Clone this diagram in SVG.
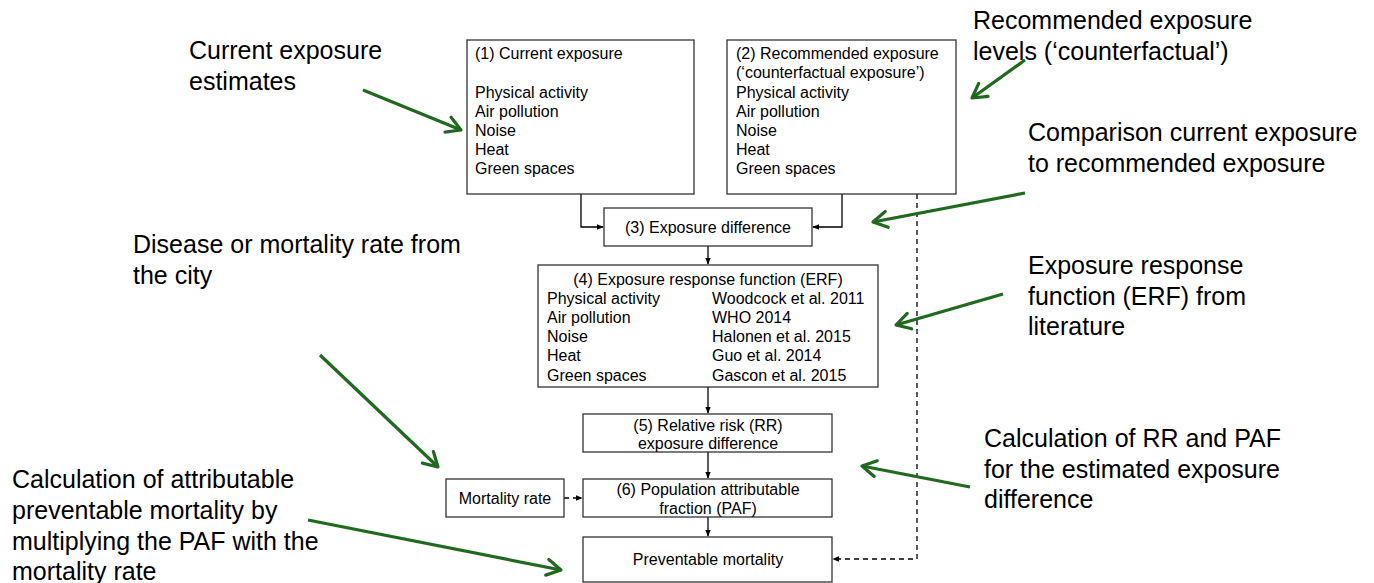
<svg xmlns="http://www.w3.org/2000/svg" width="1374" height="583" viewBox="0 0 1374 583">
<defs>
<style>
.box{fill:#fff;stroke:#333;stroke-width:1.3}
.t{font-family:"Liberation Sans",Arial,sans-serif;font-size:16px;fill:#000}
.g{font-family:"Liberation Sans",Arial,sans-serif;font-size:25px;fill:#000}
.c{fill:none;stroke:#000;stroke-width:1.3}
.d{fill:none;stroke:#000;stroke-width:1.3;stroke-dasharray:5,4}
.ga{fill:none;stroke:#1e6b1e;stroke-width:3.2}
</style>
<marker id="ah" viewBox="0 0 10 10" refX="9" refY="5" markerWidth="7" markerHeight="7" markerUnits="userSpaceOnUse" orient="auto"><path d="M0,1 L10,5 L0,9 z" fill="#000"/></marker>
<marker id="gh" viewBox="0 0 20 20" refX="18" refY="10" markerWidth="20" markerHeight="20" markerUnits="userSpaceOnUse" orient="auto"><path d="M4,2 L18,10 L4,18" fill="none" stroke="#1e6b1e" stroke-width="3.2" stroke-linecap="round" stroke-linejoin="round"/></marker>
</defs>
<rect width="1374" height="583" fill="#fff"/>
<g id="connectors">
<path class="c" d="M581,194 V227 H603" marker-end="url(#ah)"/>
<path class="c" d="M842,194 V227 H813" marker-end="url(#ah)"/>
<path class="c" d="M708,246 V264" marker-end="url(#ah)"/>
<path class="c" d="M708,387 V413" marker-end="url(#ah)"/>
<path class="c" d="M708,452 V478" marker-end="url(#ah)"/>
<path class="c" d="M708,517 V536" marker-end="url(#ah)"/>
<path class="d" d="M564,498 H582" marker-end="url(#ah)"/>
<path class="d" d="M917,194 V559 H833" marker-end="url(#ah)"/>
</g>
<g id="n1"><rect class="box" x="467" y="40" width="227" height="154"/>
<text class="t" x="475" y="59">(1) Current exposure</text>
<text class="t" x="475" y="98">Physical activity</text>
<text class="t" x="475" y="117">Air pollution</text>
<text class="t" x="475" y="136">Noise</text>
<text class="t" x="475" y="155">Heat</text>
<text class="t" x="475" y="174">Green spaces</text></g>
<g id="n2"><rect class="box" x="727" y="40" width="229" height="154"/>
<text class="t" x="736" y="59">(2) Recommended exposure</text>
<text class="t" x="736" y="78">(‘counterfactual exposure’)</text>
<text class="t" x="736" y="98">Physical activity</text>
<text class="t" x="736" y="117">Air pollution</text>
<text class="t" x="736" y="136">Noise</text>
<text class="t" x="736" y="155">Heat</text>
<text class="t" x="736" y="174">Green spaces</text></g>
<g id="n3"><rect class="box" x="604" y="208" width="208" height="38"/>
<text class="t" x="708" y="233" text-anchor="middle">(3) Exposure difference</text></g>
<g id="n4"><rect class="box" x="538" y="265" width="340" height="122"/>
<text class="t" x="708" y="285" text-anchor="middle">(4) Exposure response function (ERF)</text>
<text class="t" x="547" y="304">Physical activity</text><text class="t" x="712" y="304">Woodcock et al. 2011</text>
<text class="t" x="547" y="323">Air pollution</text><text class="t" x="712" y="323">WHO 2014</text>
<text class="t" x="547" y="342">Noise</text><text class="t" x="712" y="342">Halonen et al. 2015</text>
<text class="t" x="547" y="361">Heat</text><text class="t" x="712" y="361">Guo et al. 2014</text>
<text class="t" x="547" y="381">Green spaces</text><text class="t" x="712" y="381">Gascon et al. 2015</text></g>
<g id="n5"><rect class="box" x="583" y="414" width="249" height="38"/>
<text class="t" x="708" y="431" text-anchor="middle">(5) Relative risk (RR)</text>
<text class="t" x="708" y="449" text-anchor="middle">exposure difference</text></g>
<g id="n6"><rect class="box" x="583" y="479" width="249" height="38"/>
<text class="t" x="708" y="495" text-anchor="middle">(6) Population attributable</text>
<text class="t" x="708" y="514" text-anchor="middle">fraction (PAF)</text></g>
<g id="n7"><rect class="box" x="446" y="479" width="118" height="38"/>
<text class="t" x="505" y="504" text-anchor="middle">Mortality rate</text></g>
<g id="n8"><rect class="box" x="583" y="537" width="249" height="45"/>
<text class="t" x="708" y="565" text-anchor="middle">Preventable mortality</text></g>
<g id="annotations">
<text class="g" x="189" y="59">Current exposure</text>
<text class="g" x="189" y="90">estimates</text>
<text class="g" x="973" y="29">Recommended exposure</text>
<text class="g" x="973" y="60">levels (‘counterfactual’)</text>
<text class="g" x="1028" y="141">Comparison current exposure</text>
<text class="g" x="1028" y="172">to recommended exposure</text>
<text class="g" x="133" y="253">Disease or mortality rate from</text>
<text class="g" x="133" y="284">the city</text>
<text class="g" x="1028" y="274">Exposure response</text>
<text class="g" x="1028" y="305">function (ERF) from</text>
<text class="g" x="1028" y="335">literature</text>
<text class="g" x="984" y="447">Calculation of RR and PAF</text>
<text class="g" x="984" y="478">for the estimated exposure</text>
<text class="g" x="984" y="508">difference</text>
<text class="g" x="12" y="488">Calculation of attributable</text>
<text class="g" x="12" y="519">preventable mortality by</text>
<text class="g" x="12" y="550">multiplying the PAF with the</text>
<text class="g" x="12" y="580">mortality rate</text>
</g>
<g id="green-arrows">
<path class="ga" d="M363,90 L461,130" marker-end="url(#gh)"/>
<path class="ga" d="M1025,60 L972,98" marker-end="url(#gh)"/>
<path class="ga" d="M1025,193 L873,222" marker-end="url(#gh)"/>
<path class="ga" d="M320,355 L438,467" marker-end="url(#gh)"/>
<path class="ga" d="M1003,294 L896,325" marker-end="url(#gh)"/>
<path class="ga" d="M970,487 L862,466" marker-end="url(#gh)"/>
<path class="ga" d="M308,520 L561,570" marker-end="url(#gh)"/>
</g>
</svg>
